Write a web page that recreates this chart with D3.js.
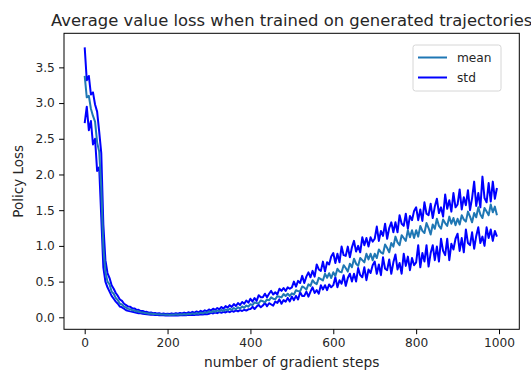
<!DOCTYPE html>
<html>
<head>
<meta charset="utf-8">
<script src="https://cdnjs.cloudflare.com/ajax/libs/d3/7.8.5/d3.min.js"></script>
<style>
body { margin: 0; background: #fff; }
text { font-family: 'DejaVu Sans', sans-serif; fill: #262626; }
</style>
</head>
<body>
<div id="chart"></div>
<script>
// one sample every 5 gradient steps
var STEP = 5;

var meanLoss = [
    3.38, 3.08, 3.1, 2.92, 2.82, 2.74, 2.45, 2.32, 1.82, 0.98, 0.64, 0.5, 0.46, 0.36, 0.33, 0.27, 0.24, 0.19, 0.18, 0.15,
    0.135, 0.118, 0.114, 0.098, 0.095, 0.082, 0.081, 0.07, 0.069, 0.059, 0.058, 0.051, 0.052, 0.045, 0.047, 0.041, 0.043, 0.038, 0.04, 0.035,
    0.038, 0.033, 0.04, 0.035, 0.042, 0.036, 0.044, 0.038, 0.047, 0.04, 0.05, 0.044, 0.055, 0.046, 0.058, 0.051, 0.064, 0.055, 0.07, 0.062,
    0.082, 0.07, 0.09, 0.076, 0.094, 0.083, 0.104, 0.088, 0.11, 0.097, 0.121, 0.104, 0.13, 0.112, 0.14, 0.124, 0.152, 0.133, 0.165, 0.148,
    0.184, 0.171, 0.208, 0.198, 0.197, 0.236, 0.225, 0.209, 0.25, 0.238, 0.28, 0.26, 0.252, 0.296, 0.288, 0.279, 0.325, 0.299, 0.33, 0.299,
    0.336, 0.319, 0.379, 0.366, 0.365, 0.432, 0.416, 0.388, 0.462, 0.44, 0.52, 0.482, 0.465, 0.552, 0.535, 0.516, 0.61, 0.554, 0.617, 0.55,
    0.63, 0.58, 0.68, 0.64, 0.63, 0.73, 0.69, 0.64, 0.75, 0.70, 0.82, 0.75, 0.72, 0.83, 0.80, 0.77, 0.89, 0.81, 0.89, 0.80,
    0.89, 0.83, 0.95, 0.91, 0.89, 1.02, 0.97, 0.91, 1.04, 0.99, 1.13, 1.05, 1.01, 1.15, 1.11, 1.07, 1.22, 1.12, 1.22, 1.11,
    1.22, 1.13, 1.28, 1.21, 1.18, 1.32, 1.25, 1.16, 1.30, 1.24, 1.38, 1.28, 1.24, 1.37, 1.32, 1.28, 1.41, 1.31, 1.39, 1.29,
    1.38, 1.30, 1.43, 1.37, 1.34, 1.48, 1.41, 1.33, 1.46, 1.40, 1.54, 1.44, 1.39, 1.53, 1.48, 1.43, 1.58, 1.47, 1.55, 1.43
];

// mean + std
var stdUpper = [
    3.78, 3.32, 3.38, 3.12, 3.15, 2.98, 2.88, 2.6, 2.3, 1.3, 0.8, 0.62, 0.55, 0.45, 0.4, 0.34, 0.3, 0.25, 0.23, 0.19,
    0.17, 0.15, 0.148, 0.125, 0.124, 0.104, 0.106, 0.088, 0.09, 0.075, 0.077, 0.064, 0.068, 0.057, 0.061, 0.052, 0.056, 0.048, 0.052, 0.045,
    0.05, 0.046, 0.055, 0.047, 0.057, 0.05, 0.06, 0.053, 0.066, 0.056, 0.07, 0.06, 0.076, 0.064, 0.082, 0.07, 0.09, 0.076, 0.098, 0.085,
    0.11, 0.095, 0.12, 0.104, 0.13, 0.112, 0.145, 0.12, 0.156, 0.135, 0.17, 0.146, 0.185, 0.158, 0.2, 0.172, 0.215, 0.19, 0.235, 0.205,
    0.26, 0.22, 0.27, 0.23, 0.31, 0.28, 0.28, 0.33, 0.28, 0.33, 0.37, 0.32, 0.35, 0.32, 0.40, 0.37, 0.41, 0.37, 0.42, 0.40,
    0.42, 0.50, 0.43, 0.51, 0.48, 0.58, 0.48, 0.57, 0.63, 0.56, 0.65, 0.57, 0.74, 0.67, 0.65, 0.78, 0.64, 0.77, 0.74, 0.85,
    0.90, 0.76, 0.89, 0.77, 0.99, 0.87, 0.86, 0.99, 0.84, 0.98, 1.07, 0.92, 1.00, 0.91, 1.12, 1.01, 1.11, 0.99, 1.12, 1.06,
    1.10, 1.27, 1.07, 1.21, 1.14, 1.31, 1.10, 1.25, 1.33, 1.19, 1.33, 1.19, 1.43, 1.31, 1.28, 1.45, 1.24, 1.42, 1.36, 1.49,
    1.54, 1.36, 1.51, 1.35, 1.61, 1.45, 1.43, 1.59, 1.39, 1.55, 1.66, 1.46, 1.54, 1.41, 1.72, 1.52, 1.64, 1.48, 1.74, 1.54,
    1.58, 1.79, 1.51, 1.68, 1.57, 1.78, 1.50, 1.67, 1.90, 1.56, 1.74, 1.54, 1.97, 1.67, 1.61, 1.88, 1.62, 1.90, 1.66, 1.81
];

// mean - std
var stdLower = [
    2.72, 2.95, 2.62, 2.75, 2.42, 2.5, 2.05, 2.1, 1.4, 0.7, 0.5, 0.42, 0.36, 0.3, 0.26, 0.22, 0.19, 0.15, 0.14, 0.12,
    0.098, 0.09, 0.083, 0.077, 0.07, 0.064, 0.058, 0.056, 0.05, 0.046, 0.042, 0.04, 0.037, 0.034, 0.033, 0.031, 0.03, 0.028, 0.027, 0.026,
    0.026, 0.024, 0.027, 0.025, 0.028, 0.026, 0.03, 0.027, 0.032, 0.029, 0.034, 0.031, 0.036, 0.033, 0.039, 0.035, 0.042, 0.038, 0.046, 0.042,
    0.05, 0.062, 0.054, 0.068, 0.058, 0.072, 0.064, 0.078, 0.068, 0.084, 0.072, 0.09, 0.078, 0.096, 0.083, 0.1, 0.088, 0.106, 0.094, 0.112,
    0.115, 0.147, 0.116, 0.15, 0.174, 0.14, 0.164, 0.203, 0.154, 0.197, 0.18, 0.164, 0.222, 0.202, 0.251, 0.19, 0.241, 0.219, 0.272, 0.222,
    0.29, 0.24, 0.30, 0.25, 0.35, 0.30, 0.30, 0.36, 0.29, 0.36, 0.42, 0.34, 0.38, 0.33, 0.45, 0.39, 0.45, 0.38, 0.46, 0.42,
    0.45, 0.56, 0.42, 0.52, 0.47, 0.59, 0.44, 0.55, 0.61, 0.50, 0.61, 0.50, 0.69, 0.59, 0.56, 0.70, 0.52, 0.67, 0.62, 0.73,
    0.78, 0.61, 0.74, 0.59, 0.84, 0.68, 0.66, 0.81, 0.61, 0.77, 0.88, 0.67, 0.76, 0.61, 0.89, 0.72, 0.85, 0.66, 0.83, 0.73,
    0.77, 1.01, 0.70, 0.90, 0.78, 1.01, 0.71, 0.90, 1.01, 0.80, 0.99, 0.78, 1.10, 0.93, 0.87, 1.10, 0.80, 1.03, 0.95, 1.10,
    1.17, 0.93, 1.11, 0.91, 1.23, 1.04, 1.01, 1.19, 0.96, 1.14, 1.26, 1.04, 1.13, 1.00, 1.26, 1.11, 1.23, 1.07, 1.21, 1.13
];

var xTicks = [0, 200, 400, 600, 800, 1000],
    yTicks = [0, 0.5, 1, 1.5, 2, 2.5, 3, 3.5],
    seriesNames = ['mean', 'std'],
    seriesColors = ['#1f77b4', '#0000ff'];

(function drawChart() {
    var width = 531,
        height = 376,
        pLeft = 64, pRight = 519.3, pTop = 33.3, pBottom = 329.3,
        svg = d3.select('#chart').append('svg')
            .attr('width', width)
            .attr('height', height),
        x, y, rows, plot, xAxis, yAxis, legend;

    x = d3.scaleLinear().domain([-49.95, 1048.95]).range([pLeft, pRight]);
    y = d3.scaleLinear().domain([-0.168, 3.977]).range([pBottom, pTop]);

    rows = meanLoss.map(function(m, i) {
        return { step: i * STEP, mean: m, hi: stdUpper[i], lo: stdLower[i] };
    });

    function lineOf(key) {
        return d3.line()
            .x(function(d) { return x(d.step); })
            .y(function(d) { return y(d[key]); });
    }

    plot = svg.append('g');

    // std band edges first, mean on top
    ['hi', 'lo'].forEach(function(k) {
        plot.append('path')
            .datum(rows)
            .attr('d', lineOf(k))
            .style('fill', 'none')
            .style('stroke', seriesColors[1])
            .style('stroke-width', 2)
            .style('stroke-linejoin', 'round');
    });
    plot.append('path')
        .datum(rows)
        .attr('d', lineOf('mean'))
        .style('fill', 'none')
        .style('stroke', seriesColors[0])
        .style('stroke-width', 2)
        .style('stroke-linejoin', 'round');

    xAxis = svg.append('g')
        .attr('transform', 'translate(0,' + pBottom + ')')
        .call(d3.axisBottom(x).tickValues(xTicks).tickSize(4.9).tickPadding(4.3)
            .tickFormat(d3.format('d')));
    yAxis = svg.append('g')
        .attr('transform', 'translate(' + pLeft + ',0)')
        .call(d3.axisLeft(y).tickValues(yTicks).tickSize(4.9).tickPadding(4.3)
            .tickFormat(d3.format('.1f')));

    [xAxis, yAxis].forEach(function(a) {
        a.select('.domain').remove();
        a.selectAll('line').style('stroke', '#000').style('stroke-width', 1);
        a.selectAll('text')
            .style('font-family', "'DejaVu Sans', sans-serif")
            .style('font-size', '12.2px')
            .style('fill', '#262626');
    });

    svg.append('rect')
        .attr('x', pLeft).attr('y', pTop)
        .attr('width', pRight - pLeft).attr('height', pBottom - pTop)
        .style('fill', 'none')
        .style('stroke', '#000')
        .style('stroke-width', 1);

    svg.append('text')
        .attr('x', (pLeft + pRight) / 2)
        .attr('y', 26)
        .attr('text-anchor', 'middle')
        .style('font-size', '16.4px')
        .text('Average value loss when trained on generated trajectories');

    svg.append('text')
        .attr('x', (pLeft + pRight) / 2)
        .attr('y', 367)
        .attr('text-anchor', 'middle')
        .style('font-size', '13.8px')
        .text('number of gradient steps');

    svg.append('text')
        .attr('transform', 'translate(23,' + ((pTop + pBottom) / 2) + ') rotate(-90)')
        .attr('text-anchor', 'middle')
        .style('font-size', '13.5px')
        .text('Policy Loss');

    legend = svg.append('g').attr('transform', 'translate(413,45)');
    legend.append('rect')
        .attr('width', 88).attr('height', 46)
        .attr('rx', 2.5)
        .style('fill', 'rgba(255,255,255,0.8)')
        .style('stroke', '#d6d6d6')
        .style('stroke-width', 1);
    seriesNames.forEach(function(n, i) {
        legend.append('line')
            .attr('x1', 5).attr('x2', 34)
            .attr('y1', 12.5 + i * 20).attr('y2', 12.5 + i * 20)
            .style('stroke', seriesColors[i])
            .style('stroke-width', 2);
        legend.append('text')
            .attr('x', 44)
            .attr('y', 12.5 + i * 20 + 4.4)
            .style('font-size', '12.2px')
            .text(n);
    });
})();
</script>
</body>
</html>
